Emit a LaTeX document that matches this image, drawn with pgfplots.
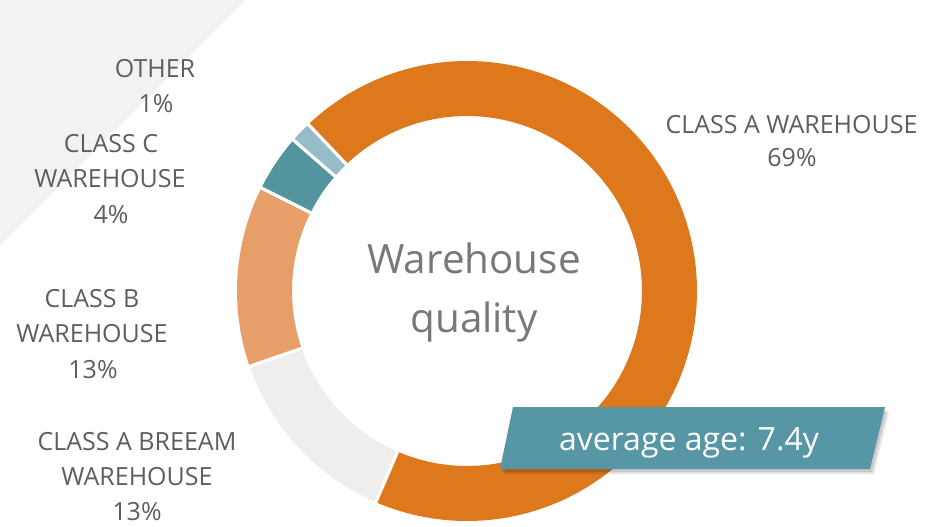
\documentclass[border=0pt]{standalone}
\usepackage{pgfplots}
\pgfplotsset{compat=1.18}
\usepackage{fontspec}
\setmainfont{Open Sans}
\definecolor{cA}{HTML}{DE781C}
\definecolor{cBR}{HTML}{EFEEED}
\definecolor{cB}{HTML}{E89E68}
\definecolor{cC}{HTML}{54949F}
\definecolor{cO}{HTML}{96BCC8}
\definecolor{boxc}{HTML}{5696A5}
\definecolor{bg}{HTML}{F3F2F1}
\definecolor{lbl}{HTML}{5E5E5E}
\definecolor{ctr}{HTML}{787878}
% shares in percent (read off the ring), counter-clockwise from the top-left boundary
\def\pO{1.5}\def\pC{4.0}\def\pB{12.7}\def\pBR{13.2}\def\pA{68.6}
\pgfmathsetmacro{\aO}{133.6}
\pgfmathsetmacro{\aC}{\aO+3.6*\pO}
\pgfmathsetmacro{\aB}{\aC+3.6*\pC}
\pgfmathsetmacro{\aBR}{\aB+3.6*\pB}
\pgfmathsetmacro{\aA}{\aBR+3.6*\pBR}
\pgfmathsetmacro{\aE}{\aA+3.6*\pA}
\newcommand{\lab}[3]{\node[anchor=base,text=lbl,font=\fontsize{12.5}{15}\selectfont] at (axis cs:#1,#2) {#3};}
\begin{document}
\begin{tikzpicture}
\begin{axis}[x=0.5pt,y=0.5pt,xmin=0,xmax=927,ymin=0,ymax=526,hide axis,clip=true]
\coordinate (bl) at (axis cs:0,0);
\coordinate (tr) at (axis cs:927,526);
\addplot[fill=white,draw=none] coordinates {(0,0)(927,0)(927,526)(0,526)} -- cycle;
\addplot[fill=bg,draw=none] coordinates {(0,526)(245,526)(0,281)} -- cycle;
% donut segments
\addplot[cO,line width=27.5pt,line join=round,domain=\aO:\aC,samples=5,variable=\t] ({467+202.5*cos(\t)},{235+202.5*sin(\t)});
\addplot[cC,line width=27.5pt,line join=round,domain=\aC:\aB,samples=12,variable=\t] ({467+202.5*cos(\t)},{235+202.5*sin(\t)});
\addplot[cB,line width=27.5pt,line join=round,domain=\aB:\aBR,samples=40,variable=\t] ({467+202.5*cos(\t)},{235+202.5*sin(\t)});
\addplot[cBR,line width=27.5pt,line join=round,domain=\aBR:\aA,samples=40,variable=\t] ({467+202.5*cos(\t)},{235+202.5*sin(\t)});
\addplot[cA,line width=27.5pt,line join=round,domain=\aA:\aE,samples=160,variable=\t] ({467+202.5*cos(\t)},{235+202.5*sin(\t)});
% white separators
\addplot[white,line width=1.6pt,domain=168:238,samples=2] ({467+x*cos(\aO)},{235+x*sin(\aO)});
\addplot[white,line width=1.6pt,domain=168:238,samples=2] ({467+x*cos(\aC)},{235+x*sin(\aC)});
\addplot[white,line width=1.6pt,domain=168:238,samples=2] ({467+x*cos(\aB)},{235+x*sin(\aB)});
\addplot[white,line width=1.6pt,domain=168:238,samples=2] ({467+x*cos(\aBR)},{235+x*sin(\aBR)});
\addplot[white,line width=1.6pt,domain=168:238,samples=2] ({467+x*cos(\aA)},{235+x*sin(\aA)});
% centre text
\node[anchor=base,text=ctr,font=\fontsize{20.2}{24}\selectfont] at (axis cs:474,253) {Warehouse};
\node[anchor=base,text=ctr,font=\fontsize{20.2}{24}\selectfont] at (axis cs:474,194) {quality};
% labels
\lab{155}{448}{OTHER}
\lab{156}{413}{1\%}
\lab{111}{373}{CLASS C}
\lab{110}{338}{WAREHOUSE}
\lab{111}{303}{4\%}
\lab{92}{219}{CLASS B}
\lab{92}{184}{WAREHOUSE}
\lab{93}{148}{13\%}
\lab{137}{76}{CLASS A BREEAM}
\lab{137}{41}{WAREHOUSE}
\lab{137}{6}{13\%}
\lab{791.5}{393}{CLASS A WAREHOUSE}
\lab{792}{359}{69\%}
% average age box with soft shadow
\addplot[fill=black,fill opacity=0.10,draw=none] coordinates {(517,114)(889,114)(874,52)(504,52)} -- cycle;
\addplot[fill=black,fill opacity=0.12,draw=none] coordinates {(515,116)(887,116)(872,54)(502,54)} -- cycle;
\addplot[fill=boxc,draw=none] coordinates {(513,119)(885,119)(870,57)(500,57)} -- cycle;
\node[anchor=base,text=white,font=\fontsize{16}{19}\selectfont] at (axis cs:689,76) {average age: 7.4y};
\end{axis}
\pgfresetboundingbox
\path[use as bounding box] (bl) rectangle (tr);
\end{tikzpicture}
\end{document}
